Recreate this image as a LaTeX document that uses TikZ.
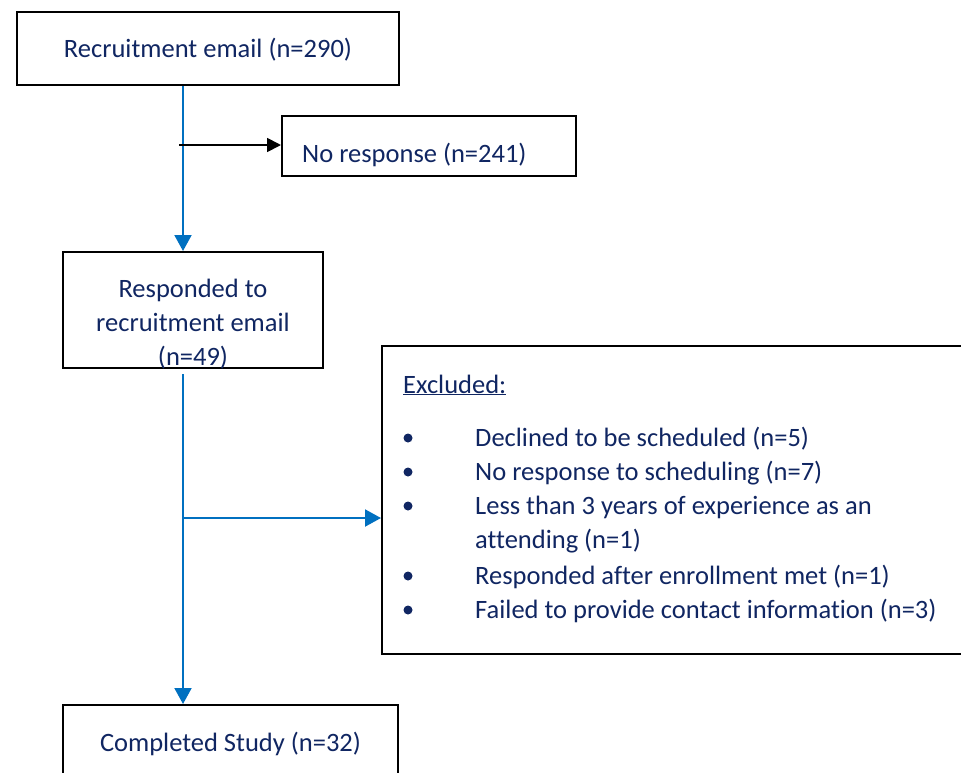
\documentclass[tikz,border=0pt]{standalone}
\usepackage{fontspec}
\setmainfont{Carlito}[Ligatures=NoCommon]
\usetikzlibrary{arrows.meta}
\definecolor{txt}{RGB}{16,38,98}
\definecolor{flow}{RGB}{0,112,192}
\begin{document}
\begin{tikzpicture}[x=1pt,y=-1pt,
  font=\fontsize{26.5}{34}\selectfont,
  box/.style={draw=black, line width=2pt, inner sep=0pt, fill=white},
  lbl/.style={text=txt, anchor=base, inner sep=0pt},
  lblw/.style={text=txt, anchor=base west, inner sep=0pt},
  bullet/.style={fill=txt, circle, inner sep=0pt, minimum size=9pt},
  tip/.style={-{Triangle[width=17pt,length=16pt]}},
  flowline/.style={draw=flow, line width=2pt, tip},
  blackline/.style={draw=black, line width=1.8pt, -{Triangle[width=14pt,length=14pt]}}]
\clip (0,0) rectangle (961,772);
\fill[white] (0,0) rectangle (961,772);
% boxes
\node[box, minimum width=382pt, minimum height=73pt] (b1) at (208,48.5) {};
\node[box, minimum width=294pt, minimum height=60pt] (nr) at (429,146) {};
\node[box, minimum width=260pt, minimum height=116pt] (b2) at (193,310) {};
\node[box, minimum width=583pt, minimum height=308pt] (ex) at (673.5,500) {};
\node[box, minimum width=335pt, minimum height=85pt] (b3) at (230.5,747.5) {};
% texts
\node[lbl] (t1) at (208,57) {Recruitment email (n=290)};
\node[lblw] (tnr) at (302,162) {No response (n=241)};
\node[lbl] (t2a) at (193,297) {Responded to};
\node[lbl] (t2b) at (193,331) {recruitment email};
\node[lbl] (t2c) at (193,365) {(n=49)};
\node[lbl] (t3) at (230.5,751) {Completed Study (n=32)};
\node[lblw] (exh) at (403,393) {\underline{Excluded:}};
\foreach \y/\t [count=\i] in {446/Declined to be scheduled (n=5),
    480/No response to scheduling (n=7),
    514/Less than 3 years of experience as an,
    584/Responded after enrollment met (n=1),
    618/Failed to provide contact information (n=3)}{
  \node[bullet] (bul\i) at (408,\y-8) {};
  \node[lblw] (it\i) at (475,\y) {\t};
}
\node[lblw] (it3b) at (475,548) {attending (n=1)};
% connectors
\coordinate (trunk) at (183,0);
\draw[flowline] (b1.south -| trunk) -- (b2.north -| trunk);
\coordinate (nrstart) at (179,145);
\draw[blackline] (nrstart) -- (nrstart -| nr.west);
\path (b2.south -| trunk) ++(0,5) coordinate (b2out);
\draw[flowline] (b2out) -- (b3.north -| trunk);
\coordinate (br) at (183,518);
\draw[flowline] (br) -- (br -| ex.west);
\end{tikzpicture}
\end{document}
